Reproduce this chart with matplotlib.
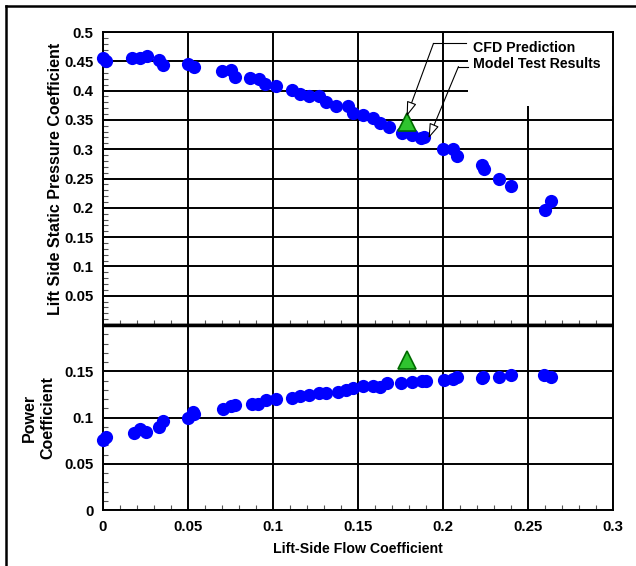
import matplotlib
matplotlib.use("Agg")
import matplotlib.pyplot as plt
from matplotlib.ticker import MultipleLocator, FixedLocator, FixedFormatter
from matplotlib.lines import Line2D

plt.rcParams['font.family'] = ['Liberation Sans', 'DejaVu Sans']
plt.rcParams['font.weight'] = 'bold'

# model test results - static pressure (upper panel)
flow_p = [0.0002, 0.002, 0.017, 0.022, 0.026, 0.033, 0.0355, 0.050, 0.0535,
          0.070, 0.075, 0.0775, 0.0865, 0.0915, 0.0955, 0.102, 0.111, 0.116,
          0.121, 0.127, 0.131, 0.137, 0.144, 0.147, 0.153, 0.159, 0.163,
          0.168, 0.176, 0.182, 0.187, 0.189, 0.200, 0.206, 0.208, 0.223,
          0.224, 0.233, 0.240, 0.260, 0.2635]
press = [0.455, 0.450, 0.455, 0.455, 0.459, 0.453, 0.443, 0.445, 0.441,
         0.434, 0.436, 0.424, 0.421, 0.419, 0.411, 0.407, 0.401, 0.394,
         0.390, 0.390, 0.380, 0.373, 0.373, 0.361, 0.358, 0.353, 0.344,
         0.338, 0.327, 0.324, 0.319, 0.321, 0.300, 0.301, 0.288, 0.273,
         0.267, 0.249, 0.237, 0.196, 0.212]

# model test results - power coefficient (lower panel)
flow_w = [0.0002, 0.002, 0.018, 0.022, 0.025, 0.033, 0.0355, 0.050, 0.0527,
          0.0535, 0.0704, 0.0753, 0.0776, 0.0875, 0.0914, 0.0959, 0.102,
          0.111, 0.116, 0.121, 0.127, 0.131, 0.138, 0.143, 0.147, 0.153,
          0.159, 0.163, 0.167, 0.175, 0.182, 0.1875, 0.190, 0.2006, 0.206,
          0.2084, 0.2228, 0.2237, 0.2331, 0.240, 0.2596, 0.2635]
power = [0.076, 0.079, 0.083, 0.088, 0.084, 0.090, 0.0965, 0.100, 0.106,
         0.104, 0.109, 0.112, 0.114, 0.1146, 0.115, 0.119, 0.120,
         0.1207, 0.123, 0.124, 0.126, 0.1268, 0.128, 0.1297, 0.1315, 0.134,
         0.134, 0.133, 0.137, 0.1376, 0.1387, 0.1395, 0.140, 0.1405, 0.142,
         0.1434, 0.143, 0.1441, 0.1434, 0.146, 0.146, 0.1434]

# CFD prediction
cfd_flow = [0.1786]
cfd_press = [0.347]
cfd_power = [0.162]

x_ticks = [0, 0.05, 0.1, 0.15, 0.2, 0.25, 0.3]
x_labels = ['0', '0.05', '0.1', '0.15', '0.2', '0.25', '0.3']
yp_ticks = [0.05, 0.1, 0.15, 0.2, 0.25, 0.3, 0.35, 0.4, 0.45, 0.5]
yp_labels = ['0.05', '0.1', '0.15', '0.2', '0.25', '0.3', '0.35', '0.4', '0.45', '0.5']
yw_ticks = [0, 0.05, 0.1, 0.15]
yw_labels = ['0', '0.05', '0.1', '0.15']

fig = plt.figure(figsize=(6.36, 5.66), dpi=100)
ax1 = fig.add_axes([103 / 636, 1 - 325 / 566, 510 / 636, 293 / 566])
ax2 = fig.add_axes([103 / 636, 1 - 510 / 566, 510 / 636, 185 / 566])

blue = '#0000ff'
for ax in (ax1, ax2):
    ax.set_xlim(0, 0.3)
    ax.xaxis.set_major_locator(FixedLocator(x_ticks))
    ax.xaxis.set_minor_locator(MultipleLocator(0.01))
    ax.yaxis.set_minor_locator(MultipleLocator(0.01))
    ax.grid(True, which='major', color='black', linewidth=1.4)
    ax.set_axisbelow(True)
    ax.tick_params(which='major', length=0, labelsize=10.8, pad=7)
    ax.tick_params(which='minor', direction='in', length=3.5, width=0.8,
                   color='#555555', top=False, right=False)
    for s in ax.spines.values():
        s.set_linewidth(1.4)

ax1.set_ylim(0, 0.5)
ax1.yaxis.set_major_locator(FixedLocator(yp_ticks))
ax1.yaxis.set_major_formatter(FixedFormatter(yp_labels))
ax1.set_xticklabels([])
ax1.spines['bottom'].set_linewidth(2.5)
ax1.spines['bottom'].set_capstyle('butt')

ax2.set_ylim(0, 0.2)
ax2.yaxis.set_major_locator(FixedLocator(yw_ticks))
ax2.yaxis.set_major_formatter(FixedFormatter(yw_labels))
ax2.xaxis.set_major_formatter(FixedFormatter(x_labels))
ax2.spines['top'].set_linewidth(2.5)
ax2.spines['top'].set_capstyle('butt')

ax1.plot(flow_p, press, 'o', color=blue, markersize=9.5, markeredgewidth=0,
         zorder=3, clip_on=False)
ax2.plot(flow_w, power, 'o', color=blue, markersize=9.5, markeredgewidth=0,
         zorder=3, clip_on=False)
for ax, yv in ((ax1, cfd_press), (ax2, cfd_power)):
    ax.plot(cfd_flow, yv, '^', markerfacecolor='#2fc42f', markeredgecolor='#006b00',
            markeredgewidth=1.2, markersize=13, zorder=4)

for t in ax1.get_yticklabels() + ax2.get_yticklabels() + ax2.get_xticklabels():
    t.set_fontweight('bold')

ax1.set_ylabel('Lift Side Static Pressure Coefficient', fontsize=11.5, fontweight='bold')
ax2.set_ylabel('Power\nCoefficient', fontsize=11.5, fontweight='bold', linespacing=1.25)
ax2.set_xlabel('Lift-Side Flow Coefficient', fontsize=10.2, fontweight='bold')
ax1.yaxis.set_label_coords(-0.078, 0.5)
ax2.yaxis.set_label_coords(-0.094, 0.5)
ax2.xaxis.set_label_coords(0.5, -0.172)

# legend box covering the grid in the upper right corner
box = plt.Rectangle((0.716, 0.747), 0.284, 0.253, transform=ax1.transAxes,
                    facecolor='white', edgecolor='none', zorder=2)
ax1.add_patch(box)
ax1.text(0.725, 0.947, 'CFD Prediction', transform=ax1.transAxes, fontsize=10.2,
         fontweight='bold', va='center', ha='left', zorder=5)
ax1.text(0.725, 0.892, 'Model Test Results', transform=ax1.transAxes, fontsize=10.2,
         fontweight='bold', va='center', ha='left', zorder=5)

# leader lines with open arrow heads
ax1.add_line(Line2D([0.648, 0.711], [0.961, 0.961], transform=ax1.transAxes,
                    color='black', linewidth=0.8, zorder=5))
ax1.add_line(Line2D([0.697, 0.716], [0.882, 0.882], transform=ax1.transAxes,
                    color='black', linewidth=0.8, zorder=5))
arrow = dict(arrowstyle='-|>,head_length=0.9,head_width=0.3', facecolor='white',
             edgecolor='black', linewidth=0.8, shrinkA=0, shrinkB=0)
ax1.annotate('', xy=(cfd_flow[0], 0.356), xycoords='data',
             xytext=(0.648, 0.961), textcoords='axes fraction', arrowprops=arrow,
             zorder=5)
ax1.annotate('', xy=(flow_p[31] + 0.0025, 0.3185), xycoords='data',
             xytext=(0.697, 0.882), textcoords='axes fraction', arrowprops=arrow,
             zorder=5)

# frame lines on the left and top of the picture
fig.add_artist(Line2D([6 / 636, 6 / 636], [0, 1 - 6 / 566], transform=fig.transFigure,
                      color='black', linewidth=1.8))
fig.add_artist(Line2D([6 / 636, 1], [1 - 6 / 566, 1 - 6 / 566], transform=fig.transFigure,
                      color='black', linewidth=1.8))

fig.savefig('out.png', dpi=100)
